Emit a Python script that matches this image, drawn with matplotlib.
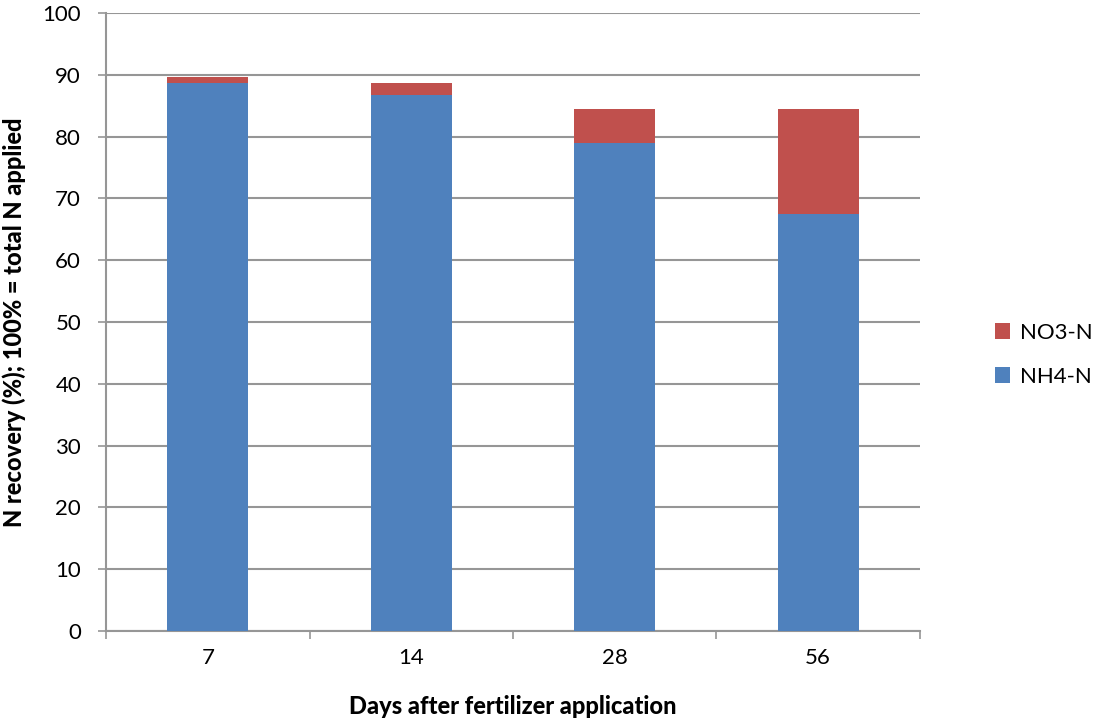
import matplotlib.pyplot as plt
import numpy as np

days = ["7", "14", "28", "56"]
nh4 = [88.7, 86.7, 78.9, 67.5]
no3 = [0.9, 1.9, 5.5, 16.9]

plt.rcParams['font.family'] = ['Lato', 'DejaVu Sans']

fig = plt.figure(figsize=(11.14, 7.19), dpi=100)
ax = fig.add_axes([0.0952, 0.1224, 0.7306, 0.8595])

x = np.arange(len(days))
grid_col = "#969696"

b1 = ax.bar(x, nh4, width=0.4, color="#4F81BD", label="NH4-N", zorder=3)
b2 = ax.bar(x, no3, width=0.4, bottom=nh4, color="#C0504D", label="NO3-N", zorder=3)

ax.set_xlim(-0.5, len(days) - 0.5)
ax.set_ylim(0, 100)
ax.set_yticks(range(0, 101, 10))
ax.yaxis.grid(True, color=grid_col, linewidth=1.5, zorder=0)

# category labels centred, tick marks on the boundaries
ax.set_xticks(x)
ax.set_xticklabels(days)
ax.tick_params(axis='x', length=0, labelsize=16, pad=12)
ax.set_xticks(np.arange(-0.5, len(days)), minor=True)
ax.tick_params(axis='x', which='minor', length=6, width=1.2, color=grid_col)
ax.tick_params(axis='y', length=6, width=1.2, color=grid_col, labelsize=16, pad=12)

for side in ['top', 'right']:
    ax.spines[side].set_visible(False)
for side in ['left', 'bottom']:
    ax.spines[side].set_color(grid_col)
    ax.spines[side].set_linewidth(1.5)

ax.set_xlabel("Days after fertilizer application", fontsize=17, fontweight='black', labelpad=20)
ax.set_ylabel("N recovery (%); 100% = total N applied", fontsize=17, fontweight='black', labelpad=12)

ax.legend([b2, b1], ["NO3-N", "NH4-N"], loc='center left', bbox_to_anchor=(1.092, 0.447),
          frameon=False, fontsize=16, handlelength=0.7, handleheight=0.7,
          labelspacing=1.1, handletextpad=0.45, borderpad=0, borderaxespad=0)

fig.savefig("out.png", dpi=100)
